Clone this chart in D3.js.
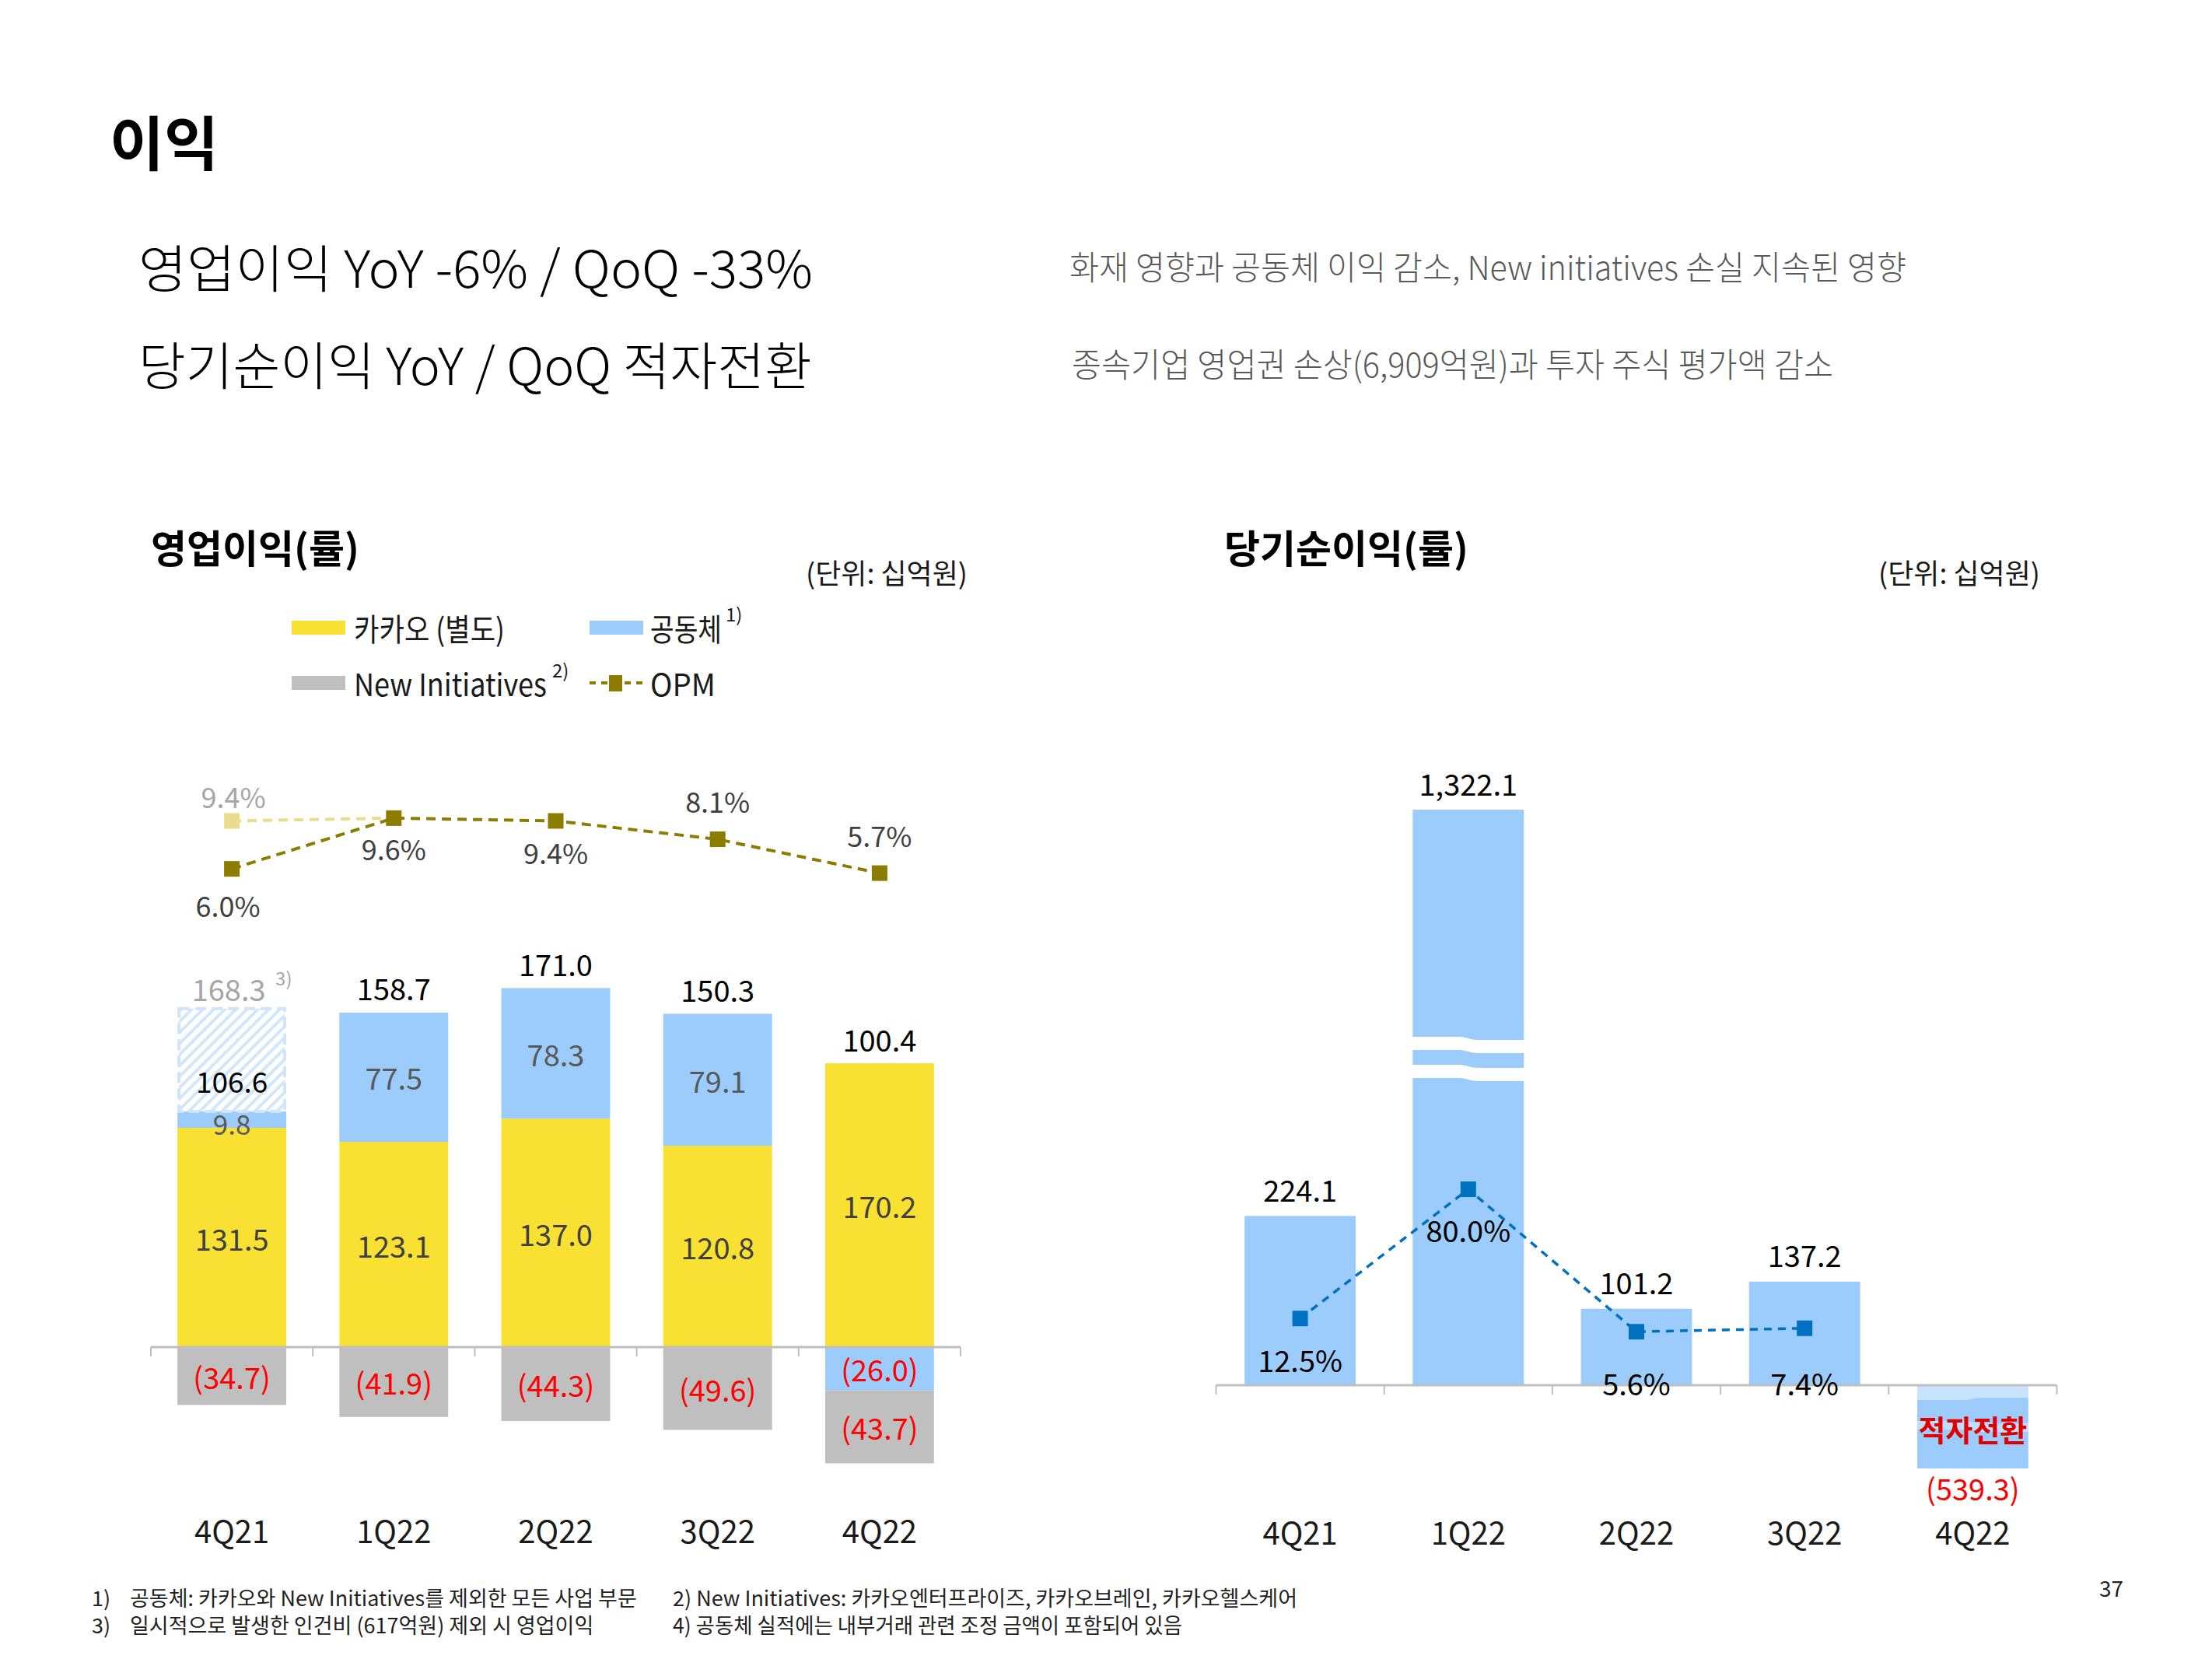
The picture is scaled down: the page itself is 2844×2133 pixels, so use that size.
<!DOCTYPE html>
<html>
<head>
<meta charset="utf-8">
<script src="https://cdn.jsdelivr.net/npm/d3@7"></script>
<style>
  html, body { margin: 0; padding: 0; background: #fff; }
  svg { display: block; font-family: "Noto Sans CJK KR", "Noto Sans", sans-serif; }
</style>
</head>
<body>
<svg id="chart" width="2844" height="2133"></svg>
<script>
// ---------------- DATA ----------------
const quarters = ["4Q21", "1Q22", "2Q22", "3Q22", "4Q22"];
// 영업이익 segments (십억원)
const kakaoValues = [131.5, 123.1, 137.0, 120.8, 170.2];
const affiliateValues = [9.8, 77.5, 78.3, 79.1, -26.0];
const newInitiativeValues = [-34.7, -41.9, -44.3, -49.6, -43.7];
const operatingTotals = [106.6, 158.7, 171.0, 150.3, 100.4];
const oneOffLabourCost = [61.7, 0, 0, 0, 0];          // 617억원, 4Q21 only
const adjustedTotals = [168.3, null, null, null, null];
const opmValues = [6.0, 9.6, 9.4, 8.1, 5.7];
const opmAdjusted = [9.4, null, null, null, null];
// 당기순이익
const netIncomeValues = [224.1, 1322.1, 101.2, 137.2, -539.3];
const netMarginValues = [12.5, 80.0, 5.6, 7.4, null];
const netIncomeLabels = ["224.1", "1,322.1", "101.2", "137.2", "(539.3)"];

// ---------------- STYLE ----------------
const C = {
  yellow: "#F8E132", blue: "#9BCCFB", gray: "#BFBFBF", red: "#FF0000",
  olive: "#8C7C00", oliveLight: "#EADC8C", netLine: "#0070C0",
  axis: "#BFBFBF", text: "#1a1a1a", dark: "#404040", mid: "#595959", light: "#A6A6A6",
  hatch: "#D3E7FB"
};
const FONT = '"Noto Sans CJK KR", "Noto Sans", sans-serif';
const FONT_LIGHT = '"Noto Sans CJK KR Light", "Noto Sans CJK KR DemiLight", "Noto Sans CJK KR", sans-serif';

const svg = d3.select("#chart");

function fit(sel, w) {
  const node = sel.node();
  const len = node.getComputedTextLength();
  if (Math.abs(len - w) / w > 0.02) {
    sel.attr("textLength", w).attr("lengthAdjust", "spacingAndGlyphs");
  }
  return sel;
}
// horizontally condense via transform (keeps bbox exact)
function squeeze(sel, x, w) {
  const len = sel.node().getComputedTextLength();
  const sx = w / len;
  sel.attr("transform", `translate(${x},0) scale(${sx},1) translate(${-x},0)`);
  return sel;
}
function txt(x, y, s, opt = {}) {
  const t = svg.append("text")
    .attr("x", x).attr("y", y)
    .attr("dominant-baseline", "central")
    .attr("text-anchor", opt.anchor || "start")
    .attr("font-size", opt.size || 36)
    .attr("font-weight", opt.weight || 400)
    .attr("fill", opt.fill || C.text)
    .text(s);
  if (opt.family) t.attr("font-family", opt.family);
  if (opt.width) fit(t, opt.width);
  if (opt.squeeze) squeeze(t, x, opt.squeeze);
  return t;
}

// ---------------- HEADER TEXT ----------------
txt(141, 180, "이익", { size: 76, weight: 700, fill: "#000" });
txt(178, 341, "영업이익 YoY -6% / QoQ -33%", { size: 66, weight: 300, family: FONT_LIGHT, fill: "#000", width: 867 });
txt(178, 466, "당기순이익 YoY / QoQ 적자전환", { size: 66, weight: 300, family: FONT_LIGHT, fill: "#000", width: 862 });
txt(1375, 341, "화재 영향과 공동체 이익 감소, New initiatives 손실 지속된 영향", { size: 43, weight: 300, family: FONT_LIGHT, fill: C.mid, width: 1076 });
txt(1378, 466, "종속기업 영업권 손상(6,909억원)과 투자 주식 평가액 감소", { size: 43, weight: 300, family: FONT_LIGHT, fill: C.mid, width: 979 });

txt(194, 702, "영업이익(률)", { size: 50, weight: 700, fill: "#000", width: 272 });
txt(1244, 735, "(단위: 십억원)", { size: 36, anchor: "end", fill: C.text, width: 207 });
txt(1574, 702, "당기순이익(률)", { size: 50, weight: 700, fill: "#000", width: 319 });
txt(2623, 735, "(단위: 십억원)", { size: 36, anchor: "end", fill: C.text, width: 207 });

// ---------------- LEGEND ----------------
const lg = svg.append("g");
lg.append("rect").attr("x", 375).attr("y", 798).attr("width", 69).attr("height", 18).attr("fill", C.yellow);
txt(455, 807, "카카오 (별도)", { size: 40, fill: C.text, width: 194 });
lg.append("rect").attr("x", 758).attr("y", 798).attr("width", 69).attr("height", 18).attr("fill", C.blue);
txt(836, 807, "공동체", { size: 40, fill: C.text, squeeze: 92 });
txt(933, 788, "1)", { size: 24, fill: C.text });
lg.append("rect").attr("x", 375).attr("y", 869).attr("width", 69).attr("height", 18).attr("fill", C.gray);
txt(455, 878, "New Initiatives", { size: 40, fill: C.text, squeeze: 248 });
txt(710, 860, "2)", { size: 24, fill: C.text });
lg.append("line").attr("x1", 758).attr("x2", 831).attr("y1", 878).attr("y2", 878)
  .attr("stroke", C.olive).attr("stroke-width", 4).attr("stroke-dasharray", "8 7");
lg.append("rect").attr("x", 783).attr("y", 868).attr("width", 17).attr("height", 21).attr("fill", C.olive);
txt(836, 878, "OPM", { size: 40, fill: C.text, width: 84 });

// ---------------- DEFS ----------------
const defs = svg.append("defs");
const pat = defs.append("pattern").attr("id", "hatch").attr("patternUnits", "userSpaceOnUse")
  .attr("width", 10).attr("height", 10).attr("patternTransform", "rotate(45)");
pat.append("rect").attr("width", 10).attr("height", 10).attr("fill", "#fff");
pat.append("line").attr("x1", 2).attr("x2", 2).attr("y1", 0).attr("y2", 10)
  .attr("stroke", C.hatch).attr("stroke-width", 4);

// ---------------- LEFT CHART: 영업이익 ----------------
const xL = d3.scaleBand().domain(quarters).range([194, 1235]).paddingInner(0.328).paddingOuter(0.164);
const yL = d3.scaleLinear().domain([-100, 250]).range([1946.4, 1196]);
const yOpm = d3.scaleLinear().domain([0, 10]).range([1226, 1044.6]);

const opRows = quarters.map((q, i) => ({
  q, kakao: kakaoValues[i], affiliate: affiliateValues[i], newInit: newInitiativeValues[i]
}));
const keys = ["kakao", "affiliate", "newInit"];
const colorOf = { kakao: C.yellow, affiliate: C.blue, newInit: C.gray };
const stacked = d3.stack().keys(keys).offset(d3.stackOffsetDiverging)(opRows);

const gL = svg.append("g");
stacked.forEach(layer => {
  gL.selectAll(null).data(layer).enter().append("rect")
    .attr("x", d => xL(d.data.q))
    .attr("width", xL.bandwidth())
    .attr("y", d => yL(Math.max(d[0], d[1])))
    .attr("height", d => Math.abs(yL(d[0]) - yL(d[1])))
    .attr("fill", colorOf[layer.key]);
});

// positive top per quarter
const posTop = quarters.map((q, i) =>
  Math.max(0, kakaoValues[i]) + Math.max(0, affiliateValues[i]));

// one-off (hatched) segment
quarters.forEach((q, i) => {
  if (!oneOffLabourCost[i]) return;
  gL.append("rect")
    .attr("x", xL(q) + 2).attr("width", xL.bandwidth() - 4)
    .attr("y", yL(posTop[i] + oneOffLabourCost[i]))
    .attr("height", yL(posTop[i]) - yL(posTop[i] + oneOffLabourCost[i]))
    .attr("fill", "url(#hatch)")
    .attr("stroke", "#D0E4FA").attr("stroke-width", 4).attr("stroke-dasharray", "14 7");
});

// baseline + boundary ticks
const stepL = xL.step();
gL.append("line").attr("x1", 194).attr("x2", 1235).attr("y1", yL(0)).attr("y2", yL(0))
  .attr("stroke", C.axis).attr("stroke-width", 3);
d3.range(quarters.length + 1).forEach(i => {
  const x = xL.range()[0] + i * stepL;
  gL.append("line").attr("x1", x).attr("x2", x).attr("y1", yL(0)).attr("y2", yL(0) + 12)
    .attr("stroke", C.axis).attr("stroke-width", 2);
});

// segment labels
const fmt = v => v < 0 ? `(${Math.abs(v).toFixed(1)})` : v.toFixed(1);
stacked.forEach(layer => {
  layer.forEach((d, i) => {
    const v = d.data[layer.key];
    if (layer.key === "affiliate" && i === 0) return; // drawn separately (small)
    const cy = (yL(d[0]) + yL(d[1])) / 2;
    let fill = layer.key === "kakao" ? C.dark : C.mid;
    if (v < 0) fill = C.red;
    txt(xL(d.data.q) + xL.bandwidth() / 2, cy, fmt(v), { size: 38, anchor: "middle", fill });
  });
});
// 4Q21 affiliate small label
txt(xL(quarters[0]) + xL.bandwidth() / 2, (yL(kakaoValues[0]) + yL(posTop[0])) / 2 + 4,
  fmt(affiliateValues[0]), { size: 35, anchor: "middle", fill: C.mid });

// totals
quarters.forEach((q, i) => {
  const cx = xL(q) + xL.bandwidth() / 2;
  if (adjustedTotals[i] != null) {
    const top = posTop[i] + oneOffLabourCost[i];
    txt(cx - 4, yL(top) - 26, adjustedTotals[i].toFixed(1), { size: 38, anchor: "middle", fill: C.light });
    txt(cx + 56, yL(top) - 40, "3)", { size: 24, fill: C.light });
    txt(cx, yL(posTop[i]) - 40, operatingTotals[i].toFixed(1), { size: 37, anchor: "middle", fill: "#000" });
  } else {
    txt(cx, yL(posTop[i]) - 32, operatingTotals[i].toFixed(1), { size: 38, anchor: "middle", fill: "#000" });
  }
});

// OPM line
const opmDy = [46, 38, 40, -50, -50];
const cxL = q => xL(q) + xL.bandwidth() / 2;
if (opmAdjusted[0] != null) {
  gL.append("line")
    .attr("x1", cxL(quarters[0])).attr("y1", yOpm(opmAdjusted[0]))
    .attr("x2", cxL(quarters[1])).attr("y2", yOpm(opmValues[1]))
    .attr("stroke", C.oliveLight).attr("stroke-width", 4).attr("stroke-dasharray", "12 8");
}
const opmLine = d3.line().x((d, i) => cxL(quarters[i])).y(d => yOpm(d));
gL.append("path").datum(opmValues).attr("d", opmLine).attr("fill", "none")
  .attr("stroke", C.olive).attr("stroke-width", 4).attr("stroke-dasharray", "12 8");
if (opmAdjusted[0] != null) {
  gL.append("rect").attr("x", cxL(quarters[0]) - 10).attr("y", yOpm(opmAdjusted[0]) - 10)
    .attr("width", 20).attr("height", 20).attr("fill", C.oliveLight);
  txt(cxL(quarters[0]) + 2, yOpm(opmAdjusted[0]) - 32, opmAdjusted[0].toFixed(1) + "%",
    { size: 36, anchor: "middle", fill: C.light });
}
opmValues.forEach((v, i) => {
  gL.append("rect").attr("x", cxL(quarters[i]) - 10).attr("y", yOpm(v) - 10)
    .attr("width", 20).attr("height", 20).attr("fill", C.olive);
  txt(cxL(quarters[i]) + (i === 0 ? -5 : 0), yOpm(v) + opmDy[i], v.toFixed(1) + "%",
    { size: 36, anchor: "middle", fill: C.dark });
});

// x labels
const axL = gL.append("g").attr("transform", `translate(0,${yL(0)})`)
  .call(d3.axisBottom(xL).tickSize(0));
axL.select(".domain").remove();
axL.selectAll("text").attr("y", 1970 - yL(0)).attr("dy", "0.35em")
  .attr("font-size", 40).attr("font-family", FONT).attr("fill", C.text);

// ---------------- RIGHT CHART: 당기순이익 ----------------
const xR = d3.scaleBand().domain(quarters).range([1563.5, 2644.5]).paddingInner(0.339).paddingOuter(0.1695);
const yR = d3.scaleLinear().domain([-600, 0, 450, 1400]).range([1900, 1781, 1344, 1014]);
const yM = d3.scaleLinear().domain([0, 100]).range([1726, 1479.8]);
const cxR = q => xR(q) + xR.bandwidth() / 2;

const gR = svg.append("g");
gR.selectAll(null).data(netIncomeValues).enter().append("rect")
  .attr("x", (d, i) => xR(quarters[i]))
  .attr("width", xR.bandwidth())
  .attr("y", d => yR(Math.max(0, d)))
  .attr("height", d => Math.abs(yR(d) - yR(0)))
  .attr("fill", C.blue);

function wave(x0, x1, yTop, h, shift) {
  const xm = (x0 + x1) / 2;
  return `M${x0},${yTop} L${xm - 14},${yTop} C${xm},${yTop} ${xm},${yTop + shift} ${xm + 14},${yTop + shift} ` +
    `L${x1},${yTop + shift} L${x1},${yTop + shift + h} L${xm + 14},${yTop + shift + h} ` +
    `C${xm},${yTop + shift + h} ${xm},${yTop + h} ${xm - 14},${yTop + h} L${x0},${yTop + h} Z`;
}
// axis break marks
netIncomeValues.forEach((v, i) => {
  const x0 = xR(quarters[i]) - 1, x1 = xR(quarters[i]) + xR.bandwidth() + 1;
  if (v > 450) {
    gR.append("path").attr("d", wave(x0, x1, yR(450) - 11, 17, 4)).attr("fill", "#fff");
    gR.append("path").attr("d", wave(x0, x1, yR(450) + 25, 17, 4)).attr("fill", "#fff");
  }
  if (v < 0) {
    gR.append("path").attr("d", wave(x0 + 1, x1 - 1, yR(0) + 1, 18, -3)).attr("fill", "#fff").attr("opacity", 0.45);
    gR.append("path").attr("d", wave(x0 + 1, x1 - 1, yR(0) + 46, 11, 3)).attr("fill", "#fff").attr("opacity", 0.35);
  }
});

// baseline + boundary ticks
const stepR = xR.step();
gR.append("line").attr("x1", 1563.5).attr("x2", 2644.5).attr("y1", yR(0)).attr("y2", yR(0))
  .attr("stroke", C.axis).attr("stroke-width", 3);
d3.range(quarters.length + 1).forEach(i => {
  const x = xR.range()[0] + i * stepR;
  gR.append("line").attr("x1", x).attr("x2", x).attr("y1", yR(0)).attr("y2", yR(0) + 12)
    .attr("stroke", C.axis).attr("stroke-width", 2);
});

// margin line
const netLine = d3.line().defined(d => d != null).x((d, i) => cxR(quarters[i])).y(d => yM(d));
gR.append("path").datum(netMarginValues).attr("d", netLine).attr("fill", "none")
  .attr("stroke", C.netLine).attr("stroke-width", 3.5).attr("stroke-dasharray", "10 8");
const marginDy = [52, 51, 65, 70];
netMarginValues.forEach((v, i) => {
  if (v == null) return;
  gR.append("rect").attr("x", cxR(quarters[i]) - 10).attr("y", yM(v) - 10)
    .attr("width", 20).attr("height", 20).attr("fill", C.netLine);
  txt(cxR(quarters[i]), yM(v) + marginDy[i], v.toFixed(1) + "%", { size: 38, anchor: "middle", fill: "#000" });
});

// value labels
netIncomeValues.forEach((v, i) => {
  const cx = cxR(quarters[i]);
  if (v >= 0) {
    txt(cx, yR(v) - 35, netIncomeLabels[i], { size: 38, anchor: "middle", fill: "#000" });
  } else {
    txt(cx, yR(v) + 25, netIncomeLabels[i], { size: 38, anchor: "middle", fill: C.red });
    txt(cx, yR(0) + 55, "적자전환", { size: 38, weight: 700, anchor: "middle", fill: "#E00000" });
  }
});

const axR = gR.append("g").attr("transform", `translate(0,${yR(0)})`)
  .call(d3.axisBottom(xR).tickSize(0));
axR.select(".domain").remove();
axR.selectAll("text").attr("y", 1972 - yR(0)).attr("dy", "0.35em")
  .attr("font-size", 40).attr("font-family", FONT).attr("fill", C.text);

// ---------------- FOOTNOTES ----------------
txt(118, 2053, "1)", { size: 27, fill: "#222" });
txt(167, 2053, "공동체: 카카오와 New Initiatives를 제외한 모든 사업 부문", { size: 27, fill: "#222", width: 643 });
txt(118, 2088, "3)", { size: 27, fill: "#222" });
txt(167, 2088, "일시적으로 발생한 인건비 (617억원) 제외 시 영업이익", { size: 27, fill: "#222", width: 588 });
txt(865, 2053, "2) New Initiatives: 카카오엔터프라이즈, 카카오브레인, 카카오헬스케어", { size: 27, fill: "#222", width: 793 });
txt(865, 2088, "4) 공동체 실적에는 내부거래 관련 조정 금액이 포함되어 있음", { size: 27, fill: "#222", width: 655 });
txt(2730, 2041, "37", { size: 28, anchor: "end", fill: "#222" });
</script>
</body>
</html>
